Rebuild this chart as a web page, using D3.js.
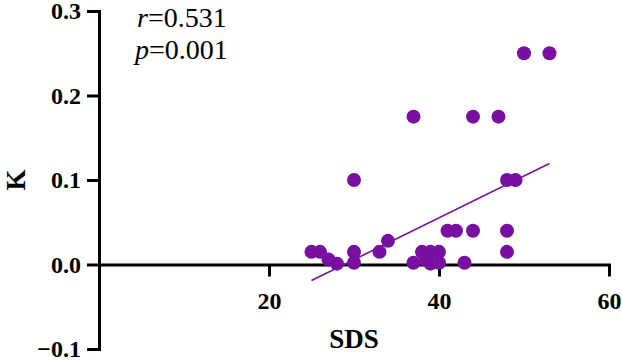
<!DOCTYPE html>
<html>
<head>
<meta charset="utf-8">
<script src="https://cdn.jsdelivr.net/npm/d3@7"></script>
<style>
  html, body { margin: 0; padding: 0; background: #fff; }
  svg { display: block; }
</style>
</head>
<body>
<svg id="chart" width="622" height="361"></svg>
<script>
// ---- data ----
const sdsValues = [25, 26, 27, 28, 30, 30, 30, 33, 34, 37, 37, 38, 39, 40, 38.5, 39, 40, 41, 42, 43, 44, 44, 47, 48, 48, 48, 49, 50, 53];
const kValues   = [0.015, 0.015, 0.006, 0.001, 0.015, 0.002, 0.1, 0.015, 0.028, 0.002, 0.175, 0.015, 0.015, 0.015, 0.005, 0.001, 0.002, 0.04, 0.04, 0.002, 0.04, 0.175, 0.175, 0.04, 0.015, 0.1, 0.1, 0.25, 0.25];
const fitX = [25, 53];
const fitY = [-0.019, 0.1195];
const xTicks = [20, 40, 60];
const yTicks = [-0.1, 0.0, 0.1, 0.2, 0.3];
const statR = "0.531";
const statP = "0.001";

const color = "#770FA0";
const font = "'Liberation Serif', 'Times New Roman', serif";

const svg = d3.select("#chart");
const x = d3.scaleLinear().domain([0, 60]).range([99, 609]);
const y = d3.scaleLinear().domain([-0.1, 0.3]).range([349, 11]);

// y axis
const yAxis = svg.append("g")
  .attr("transform", `translate(${x(0)},0)`)
  .call(d3.axisLeft(y).tickValues(yTicks).tickFormat(d3.format(".1f")).tickSize(12).tickSizeOuter(0).tickPadding(6));
// x axis
const xAxis = svg.append("g")
  .attr("transform", `translate(0,${y(0)})`)
  .call(d3.axisBottom(x).tickValues(xTicks).tickFormat(d3.format("d")).tickSize(12).tickSizeOuter(0).tickPadding(15));

[yAxis, xAxis].forEach(g => {
  g.select(".domain").attr("stroke", "#000").attr("stroke-width", 3).attr("stroke-linecap", "square");
  g.selectAll(".tick line").attr("stroke", "#000").attr("stroke-width", 3);
  g.selectAll(".tick text")
    .attr("fill", "#000")
    .style("font-family", font)
    .style("font-weight", "bold")
    .style("font-size", "24px");
});
xAxis.selectAll(".tick text").attr("dy", "0.71em");

// axis titles
svg.append("text")
  .attr("x", (x(0) + x(60)) / 2)
  .attr("y", 348)
  .attr("text-anchor", "middle")
  .style("font-family", font)
  .style("font-weight", "bold")
  .style("font-size", "27px")
  .text("SDS");

svg.append("text")
  .attr("transform", `translate(25,${(y(0.3) + y(-0.1)) / 2}) rotate(-90)`)
  .attr("text-anchor", "middle")
  .style("font-family", font)
  .style("font-weight", "bold")
  .style("font-size", "27px")
  .text("K");

// fit line
svg.append("line")
  .attr("x1", x(fitX[0])).attr("y1", y(fitY[0]))
  .attr("x2", x(fitX[1])).attr("y2", y(fitY[1]))
  .attr("stroke", color)
  .attr("stroke-width", 1.6);

// points
const pts = sdsValues.map((v, i) => ({ x: v, y: kValues[i] }));
svg.append("g").selectAll("circle")
  .data(pts)
  .enter().append("circle")
  .attr("cx", d => x(d.x))
  .attr("cy", d => y(d.y))
  .attr("r", 7)
  .attr("fill", color);

// annotation
const ann = svg.append("g")
  .style("font-family", font)
  .style("font-size", "28px")
  .attr("fill", "#000");
const t1 = ann.append("text").attr("x", 137).attr("y", 27);
t1.append("tspan").style("font-style", "italic").text("r");
t1.append("tspan").text("=" + statR);
const t2 = ann.append("text").attr("x", 135).attr("y", 59);
t2.append("tspan").style("font-style", "italic").text("p");
t2.append("tspan").text("=" + statP);
</script>
</body>
</html>
